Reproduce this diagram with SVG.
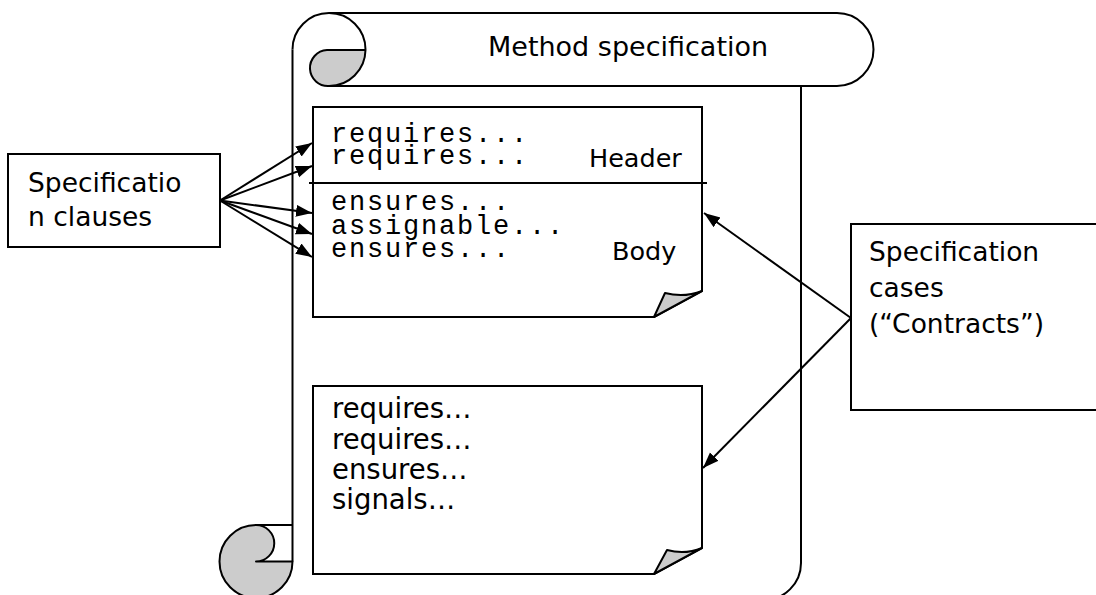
<svg xmlns="http://www.w3.org/2000/svg" width="1096" height="595" viewBox="0 0 1096 595">
<defs>
<style>
.ln{fill:none;stroke:#000;stroke-width:2;stroke-linejoin:round}
.wh{fill:#fff;stroke:#000;stroke-width:2;stroke-linejoin:miter}
.gr{fill:#cccccc;stroke:#000;stroke-width:2;stroke-linejoin:round}
.sans{font-family:"DejaVu Sans","Liberation Sans",sans-serif;font-size:25.5px;fill:#000}
.big{font-size:26.5px}
.mono{font-family:"Liberation Mono","DejaVu Sans Mono",monospace;font-size:27px;letter-spacing:1.8px;fill:#000}
</style>
<marker id="ah" markerUnits="userSpaceOnUse" markerWidth="17" markerHeight="13" refX="16" refY="6" orient="auto">
<path d="M0,0 L16,6 L0,12 Z" fill="#000"/>
</marker>
</defs>
<rect width="1096" height="595" fill="#fff"/>
<g id="scroll">
<path class="ln" d="M329,13 H837 A36.5,36.5 0 0 1 837,86 H329"/>
<path class="ln" d="M292.5,49.5 A36.5,36.5 0 0 1 365.5,49.5"/>
<path class="gr" d="M327,50 H365.5 A36.5,36.5 0 0 1 329,86 A18,18 0 0 1 327,50 Z"/>
<path class="ln" d="M292.5,49.5 V561.5"/>
<path class="ln" d="M801,86 V563 A37,37 0 0 1 764,600"/>
<path class="gr" d="M256,561.5 H292.5 A36.5,36.5 0 1 1 256,525 A18.25,18.25 0 0 1 256,561.5 Z"/>
<path class="ln" d="M256,525 H292.5"/>
<text class="sans" x="488" y="56" style="font-size:27px">Method specification</text>
</g>
<g id="case1">
<path class="wh" d="M313,107 H702 V291 L654,317 H313 Z"/>
<path class="gr" d="M654,317 L665,293 Q684,298 702,291 Z"/>
<path class="ln" d="M309,183 H707"/>
<text class="mono" x="331" y="142">requires...</text>
<text class="mono" x="331" y="164">requires...</text>
<text class="mono" x="331" y="210">ensures...</text>
<text class="mono" x="331" y="234">assignable...</text>
<text class="mono" x="331" y="257">ensures...</text>
<text class="sans" x="589" y="167">Header</text>
<text class="sans" x="612" y="260">Body</text>
</g>
<g id="case2">
<path class="wh" d="M313,386 H702 V548 L654,574 H313 Z"/>
<path class="gr" d="M654,574 L667,550 Q685,555 702,548 Z"/>
<text class="sans" x="332" y="418" style="font-size:27.5px">requires…</text>
<text class="sans" x="332" y="449" style="font-size:27.5px">requires…</text>
<text class="sans" x="332" y="479" style="font-size:27.5px">ensures…</text>
<text class="sans" x="332" y="509" style="font-size:27.5px">signals…</text>
</g>
<g id="clauses">
<rect class="wh" x="8" y="154" width="212" height="93"/>
<text class="sans big" x="28" y="192">Specificatio</text>
<text class="sans big" x="28" y="226">n clauses</text>
</g>
<g id="cases">
<rect class="wh" x="851" y="224" width="260" height="186"/>
<text class="sans big" x="869" y="261">Specification</text>
<text class="sans big" x="869" y="297">cases</text>
<text class="sans big" x="869" y="333">(“Contracts”)</text>
</g>
<g id="connectors">
<path class="ln" marker-end="url(#ah)" d="M220,200.5 L312,143"/>
<path class="ln" marker-end="url(#ah)" d="M220,200.5 L312,166"/>
<path class="ln" marker-end="url(#ah)" d="M220,200.5 L312,213"/>
<path class="ln" marker-end="url(#ah)" d="M220,200.5 L312,234"/>
<path class="ln" marker-end="url(#ah)" d="M220,200.5 L312,257"/>
<path class="ln" marker-end="url(#ah)" d="M851,318 L704,213"/>
<path class="ln" marker-end="url(#ah)" d="M851,318 L703,468"/>
</g>
</svg>
